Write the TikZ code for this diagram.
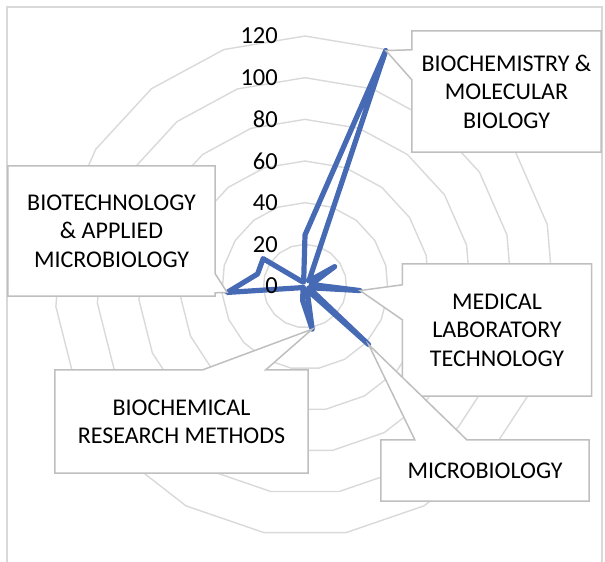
\documentclass[tikz,border=0pt]{standalone}
\usepackage{fontspec}
\setmainfont{Carlito}
\usetikzlibrary{calc}
\definecolor{gridgray}{HTML}{D9D9D9}
\definecolor{boxgray}{HTML}{BFBFBF}
\definecolor{serieblue}{HTML}{466AB4}
\pgfdeclarelayer{back}
\pgfdeclarelayer{mid}
\pgfsetlayers{back,mid,main}
\tikzset{
  ring/.style={draw=gridgray, line width=1.4pt},
  chartframe/.style={draw=gridgray, line width=1.2pt},
  series/.style={draw=serieblue, line width=5.2pt, line join=round},
  callout/.style={draw=boxgray, fill=white, line width=1.5pt},
  catlabel/.style={inner sep=0pt, align=center, font=\fontsize{24}{28.4}\selectfont},
  vallabel/.style={inner sep=0pt, anchor=east, font=\fontsize{24.5}{28}\selectfont}
}

\begin{document}
\begin{tikzpicture}[x=1pt, y=-1pt]
\useasboundingbox (0,0) rectangle (605,562);

\begin{pgfonlayer}{back}
  \draw[chartframe] (7,562) -- (7,7) -- (602,7) -- (602,562);
  \begin{scope}[shift={(305,286)}]
    % rings, 20 to 120
    \foreach \v in {20,40,...,120}
      \draw[ring] (-90:{\v*25/12}) \foreach \k in {1,...,18}{ -- ({\k*360/19-90}:{\v*25/12})} -- cycle;
    % data points
    \foreach \val [count=\k from 0] in {24.5,119.5,3,17,3,26.5,2,41.5,2,21,7,2,1,2,37.5,23.5,24,3,2}
      \coordinate (p\k) at ({\k*360/19-90}:{\val*25/12});
    \draw[series] (p0) \foreach \k in {1,...,18}{ -- (p\k)} -- cycle;
  \end{scope}
\end{pgfonlayer}

% value axis
\foreach \v [count=\i from 0] in {0,20,...,120}
  \node[vallabel] (val\i) at (278,{286-\v*25/12}) {\v};

% category labels
\node[catlabel, minimum width=189pt, minimum height=121pt] (biochem) at (506.5,91.5) {BIOCHEMISTRY \&\\MOLECULAR\\BIOLOGY};
\node[catlabel, minimum width=189pt, minimum height=132pt] (medlab) at (497,330) {MEDICAL\\LABORATORY\\TECHNOLOGY};
\node[catlabel, minimum width=208pt, minimum height=61pt] (micro) at (485,470.5) {MICROBIOLOGY};
\node[catlabel, minimum width=253pt, minimum height=103pt] (biores) at (181.5,421.5) {BIOCHEMICAL\\RESEARCH METHODS};
\node[catlabel, minimum width=207pt, minimum height=130pt] (biotech) at (111.5,231) {BIOTECHNOLOGY\\\& APPLIED\\MICROBIOLOGY};

\begin{pgfonlayer}{mid}
  \draw[callout] (biochem.north west) -- (biochem.north east) -- (biochem.south east) -- (biochem.south west)
    -- ($(biochem.north west)+(0,49)$) -- (p1) -- ($(biochem.north west)+(0,19)$) -- cycle;
  \draw[callout] (medlab.north west) -- (medlab.north east) -- (medlab.south east) -- (medlab.south west)
    -- ($(medlab.north west)+(0,56)$) -- (p5) -- ($(medlab.north west)+(0,21)$) -- cycle;
  \draw[callout] (micro.north west) -- ($(micro.north west)+(34,0)$) -- (p7) -- ($(micro.north west)+(86,0)$)
    -- (micro.north east) -- (micro.south east) -- (micro.south west) -- cycle;
  \draw[callout] (biores.north west) -- ($(biores.north west)+(148,0)$) -- (p9) -- ($(biores.north west)+(211,0)$)
    -- (biores.north east) -- (biores.south east) -- (biores.south west) -- cycle;
  \draw[callout] (biotech.north west) -- (biotech.north east) -- ($(biotech.north east)+(0,108)$) -- (p14)
    -- ($(biotech.north east)+(0,127)$) -- (biotech.south east) -- (biotech.south west) -- cycle;
\end{pgfonlayer}

\end{tikzpicture}
\end{document}
